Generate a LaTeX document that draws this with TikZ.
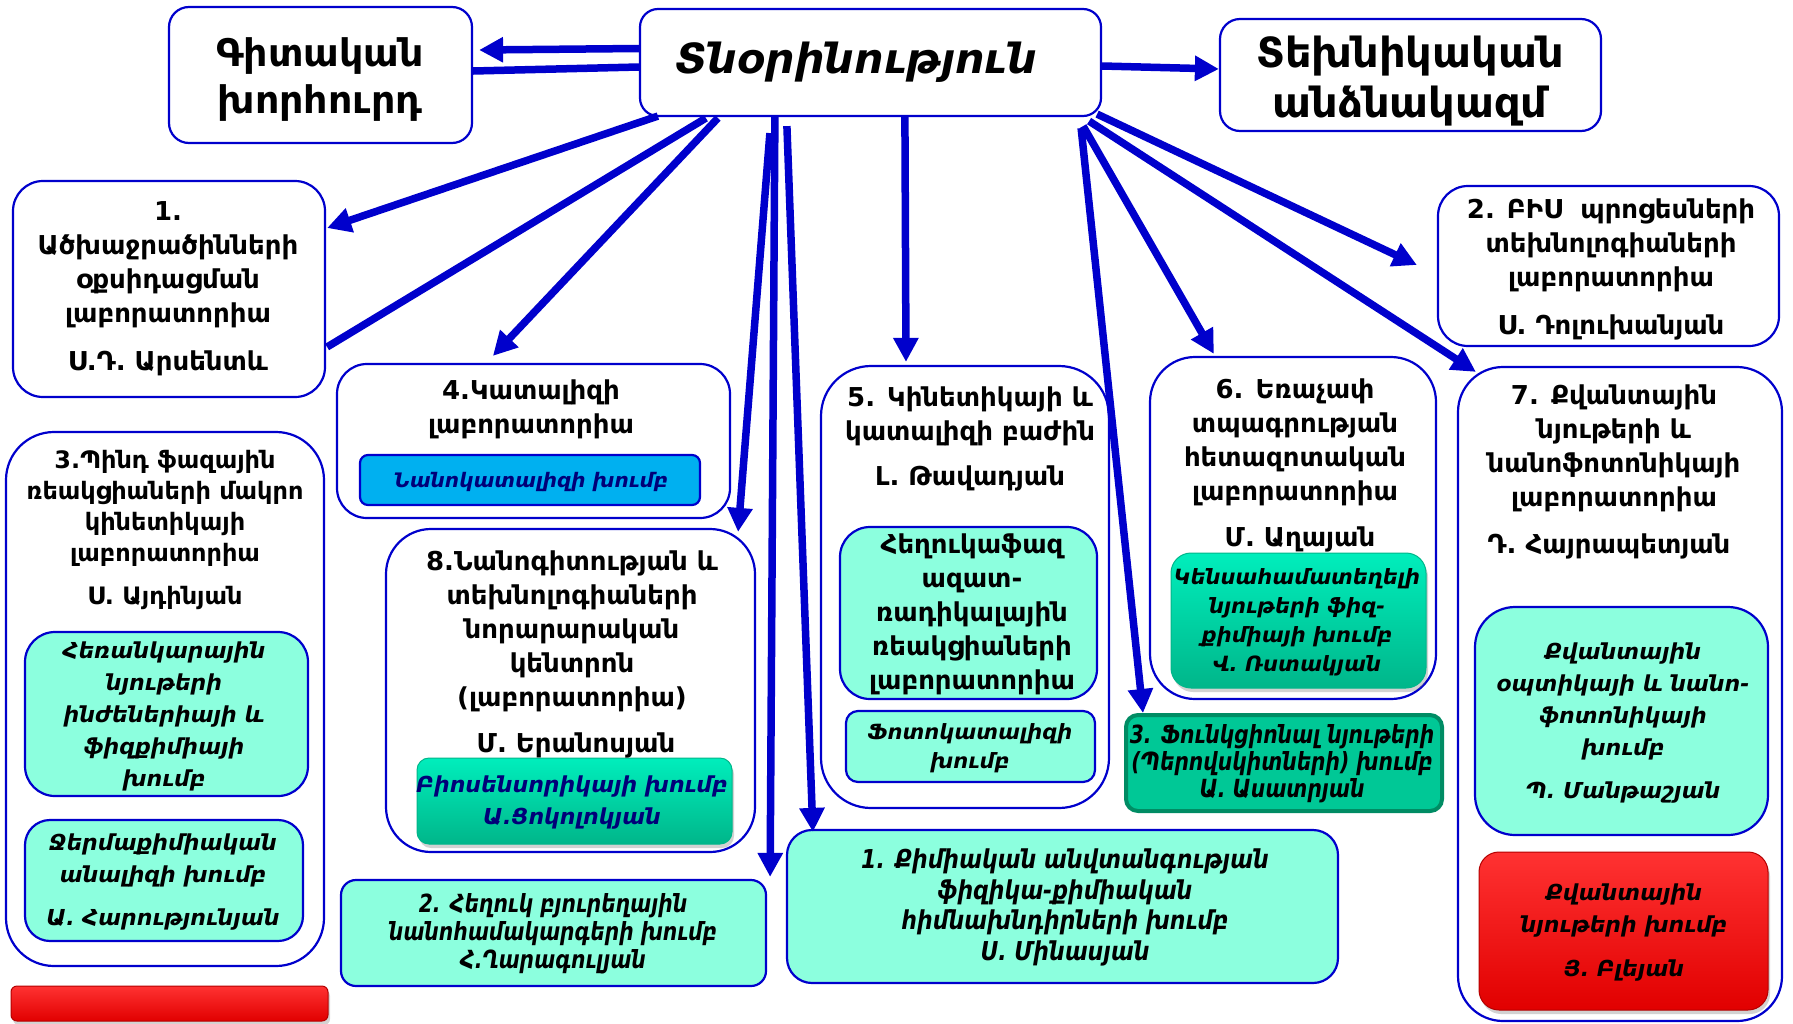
\documentclass[tikz,border=0pt]{standalone}
\usepackage{fontspec}
\setmainfont{DejaVu Sans}
\newfontfamily\condf[FakeStretch=0.81]{DejaVu Sans}
\newfontfamily\condw[FakeStretch=0.845]{DejaVu Sans}
\usetikzlibrary{arrows.meta,shadows,calc}
\definecolor{bl}{RGB}{0,0,204}
\definecolor{aqua}{RGB}{140,255,222}
\definecolor{skyb}{RGB}{0,176,240}
\definecolor{navy}{RGB}{0,0,120}
\definecolor{grtop}{RGB}{0,238,188}
\definecolor{grbot}{RGB}{0,182,138}
\definecolor{funfill}{RGB}{0,200,150}
\definecolor{funedge}{RGB}{0,140,100}
\definecolor{rtop}{RGB}{255,50,50}
\definecolor{rbot}{RGB}{225,0,0}
\tikzset{
  box/.style={draw=bl, line width=2.2pt, rounded corners=#1, fill=white, inner sep=0pt},
  box/.default=20pt,
  aquabox/.style={box=#1, fill=aqua},
  greenbox/.style={rounded corners=#1, inner sep=0pt, top color=grtop, bottom color=grbot,
     draw=grbot, line width=1pt, drop shadow={opacity=0.35, shadow xshift=2pt, shadow yshift=-4pt}},
  redbox/.style={rounded corners=#1, inner sep=0pt, top color=rtop, bottom color=rbot,
     draw=rbot!80!black, line width=1pt, drop shadow={opacity=0.35, shadow xshift=2pt, shadow yshift=-4pt}},
  arr/.style={draw=bl, line width=7.5pt, -{Triangle[length=24pt,width=24pt]}},
  bar/.style={draw=bl, line width=7.5pt},
  ttl/.style={align=center, inner sep=0pt, font=\bfseries\fontsize{26}{34}\selectfont},
  ttlc/.style={align=center, inner sep=0pt, font=\bfseries\fontsize{24}{31}\selectfont},
  grp/.style={align=center, inner sep=0pt, font=\bfseries\itshape\fontsize{22}{32}\selectfont},
  grps/.style={align=center, inner sep=0pt, font=\bfseries\itshape\fontsize{21}{29}\selectfont},
  cnd/.style={align=center, inner sep=0pt, font=\condf\bfseries\itshape\fontsize{25}{#1}\selectfont},
  cndw/.style={align=center, inner sep=0pt, font=\condw\bfseries\itshape\fontsize{26}{#1}\selectfont},
}
\begin{document}
\begin{tikzpicture}[x=1pt,y=-1pt]
\useasboundingbox (0,0) rectangle (1793,1023);

% ---------- boxes ----------
\node[box=18pt, minimum width=461pt, minimum height=107pt] (ctr) at (870.5,62.5) {};
\node[box=20pt, minimum width=303pt, minimum height=136pt] (git) at (320.5,75) {};
\node[box=20pt, minimum width=381pt, minimum height=112pt] (tech) at (1410.5,75) {};
\node[box=30pt, minimum width=312pt, minimum height=216pt] (b1) at (169,289) {};
\node[box=30pt, minimum width=341pt, minimum height=160pt] (bis) at (1608.5,266) {};
\node[box=48pt, minimum width=318pt, minimum height=534pt] (b3) at (165,699) {};
\node[aquabox=30pt, minimum width=283pt, minimum height=164pt] (b3i1) at (166.5,714) {};
\node[aquabox=25pt, minimum width=278pt, minimum height=121pt] (b3i2) at (164,880.5) {};
\node[redbox=6pt, minimum width=317pt, minimum height=35pt] (rbar) at (169.5,1003.5) {};
\node[box=30pt, minimum width=393pt, minimum height=154pt] (b4) at (533.5,441) {};
\node[box=8pt, fill=skyb, minimum width=340pt, minimum height=50pt] (b4i) at (530,480) {};
\node[box=45pt, minimum width=369pt, minimum height=323pt] (b8) at (570.5,690.5) {};
\node[greenbox=12pt, minimum width=315pt, minimum height=86pt] (b8i) at (574.5,801) {};
\node[aquabox=15pt, minimum width=425pt, minimum height=106pt] (bb2) at (553.5,933) {};
\node[box=50pt, minimum width=288pt, minimum height=442pt] (b5) at (965,587) {};
\node[aquabox=30pt, minimum width=257pt, minimum height=172pt] (b5i1) at (968.5,613) {};
\node[aquabox=12pt, minimum width=249pt, minimum height=71pt] (b5i2) at (970.5,746.5) {};
\node[aquabox=25pt, minimum width=551pt, minimum height=153pt] (bb1) at (1062.5,906.5) {};
\node[box=45pt, minimum width=286pt, minimum height=342pt] (b6) at (1293,528) {};
\node[greenbox=20pt, minimum width=255pt, minimum height=135pt] (b6i) at (1298.5,620.5) {};
\node[rounded corners=12pt, fill=funfill, draw=funedge, line width=4pt, inner sep=0pt,
      minimum width=316pt, minimum height=96pt] (fun) at (1284,763) {};
\node[box=45pt, minimum width=324pt, minimum height=654pt] (b7) at (1620,694) {};
\node[aquabox=40pt, minimum width=293pt, minimum height=228pt] (b7i1) at (1621.5,721) {};
\node[redbox=20pt, minimum width=289pt, minimum height=158pt] (b7i2) at (1623.5,931) {};

% ---------- connectors ----------
\draw[arr] ($(ctr.west)+(0,-14)$) -- ($(git.east)+(6,-25)$);
\draw[bar] ($(git.east)+(0,-4)$) -- ($(ctr.west)+(0,4.5)$);
\draw[arr] ($(ctr.east)+(0,3.5)$) -- ($(tech.west)+(0,-6)$);
\draw[arr] ($(ctr.south west)+(19,-1)$) -- ($(b1.east)+(1,-61)$);
\draw[bar] ($(ctr.south west)+(67,1)$) -- ($(b1.east)+(1,58)$);
\draw[arr] ($(ctr.south west)+(79,1)$) -- ($(b4.north west)+(157,-7)$);
\draw[arr] ($(ctr.south west)+(131,16)$) -- ($(b8.north east)+(-18,4)$);
\draw[arr] ($(ctr.south west)+(136,0)$) -- ($(bb2.north east)+(3,-2)$);
\draw[arr] ($(ctr.south west)+(148,9)$) -- ($(bb1.north west)+(27,3)$);
\draw[arr] ($(ctr.south west)+(266,0)$) -- ($(b5.north)+(-59,-3)$);
\draw[arr] ($(ctr.south east)+(-21,11)$) -- ($(fun.north west)+(19,0)$);
\draw[arr] ($(ctr.south east)+(-19,9)$) -- ($(b6.north west)+(65,-2)$);
\draw[arr] ($(ctr.south east)+(-13,4)$) -- ($(b7.north west)+(19,6)$);
\draw[arr] ($(ctr.south east)+(-5,-3)$) -- ($(bis.west)+(-20,-1)$);

% ---------- texts ----------
\node[align=center, inner sep=0pt, font=\bfseries\itshape\fontsize{41.5}{48}\selectfont] (ctrt) at (856,62) {Տնօրինություն};
\node[align=center, inner sep=0pt, font=\bfseries\fontsize{38}{47}\selectfont] (gitt) at (320,80) {Գիտական\\խորհուրդ};
\node[align=center, inner sep=0pt, font=\bfseries\fontsize{41.5}{50}\selectfont] (techt) at (1410,81) {Տեխնիկական\\անձնակազմ};

\node[ttl] (b1t) at (168,265) {1.\\Ածխաջրածինների\\օքսիդացման\\լաբորատորիա};
\node[ttl] (b1n) at (168,363) {Ս.Դ. Արսենտև};

\node[ttl] (bist) at (1611,245) {2. ԲԻՍ\ \ պրոցեսների\\տեխնոլոգիաների\\լաբորատորիա};
\node[ttl] (bisn) at (1611,327) {Ս. Դոլուխանյան};

\node[ttlc] (b3t) at (165,508) {3.Պինդ ֆազային\\ռեակցիաների մակրո\\կինետիկայի\\լաբորատորիա};
\node[ttlc] (b3n) at (165,598) {Ս. Այդինյան};
\node[grp] (b3i1t) at (164,716) {Հեռանկարային\\նյութերի\\ինժեներիայի և\\ֆիզքիմիայի\\խումբ};
\node[grp] (b3i2t) at (163,860) {Ջերմաքիմիական\\անալիզի խումբ};
\node[grp] (b3i2n) at (163,920) {Ա. Հարությունյան};

\node[ttl] (b4t) at (531,409.5) {4.Կատալիզի\\լաբորատորիա};
\node[grp, text=navy, font=\bfseries\itshape\fontsize{20}{28}\selectfont] (b4it) at (531,482) {Նանոկատալիզի խումբ};

\node[ttl] (b8t) at (572,631.5) {8.Նանոգիտության և\\տեխնոլոգիաների\\նորարարական\\կենտրոն\\(լաբորատորիա)};
\node[ttl] (b8n) at (576,745) {Մ. Երանոսյան};
\node[grp, text=navy] (b8it) at (572,803) {Բիոսենսորիկայի խումբ\\Ա.Ցոկոլոկյան};

\node[ttl] (b5t) at (970,416.5) {5. Կինետիկայի և\\կատալիզի բաժին};
\node[ttl] (b5n) at (970,478) {Լ. Թավադյան};
\node[ttl] (b5i1t) at (972,614.5) {Հեղուկաֆազ\\ազատ-\\ռադիկալային\\ռեակցիաների\\լաբորատորիա};
\node[grps] (b5i2t) at (970,748.5) {Ֆոտոկատալիզի\\խումբ};

\node[ttl] (b6t) at (1295,442.5) {6. Եռաչափ\\տպագրության\\հետազոտական\\լաբորատորիա};
\node[ttl] (b6n) at (1300,539) {Մ. Աղայան};
\node[grps] (b6it) at (1297,622.5) {Կենսահամատեղելի\\նյութերի ֆիզ-\\քիմիայի խումբ\\Վ. Ռստակյան};

\node[cnd=27] (funt) at (1282,764) {3. Ֆունկցիոնալ նյութերի\\(Պերովսկիտների) խումբ\\Ա. Ասատրյան};

\node[ttl] (b7t) at (1614,448.5) {7. Քվանտային\\նյութերի և\\նանոֆոտոնիկայի\\լաբորատորիա};
\node[ttl] (b7n) at (1609,546) {Դ. Հայրապետյան};
\node[grp] (b7i1t) at (1623,701) {Քվանտային\\օպտիկայի և նանո-\\ֆոտոնիկայի\\խումբ};
\node[grp] (b7i1n) at (1623,793) {Պ. Մանթաշյան};
\node[grp] (b7i2t) at (1624,911) {Քվանտային\\նյութերի խումբ};
\node[grp] (b7i2n) at (1624,971) {Յ. Բլեյան};

\node[cnd=28] (bb2t) at (553,934) {2. Հեղուկ բյուրեղային\\նանոհամակարգերի խումբ\\Հ.Ղարագուլյան};
\node[cndw=30.5] (bb1t) at (1065,907.5) {1. Քիմիական անվտանգության\\ֆիզիկա-քիմիական\\հիմնախնդիրների խումբ\\Ս. Մինասյան};
\end{tikzpicture}
\end{document}
